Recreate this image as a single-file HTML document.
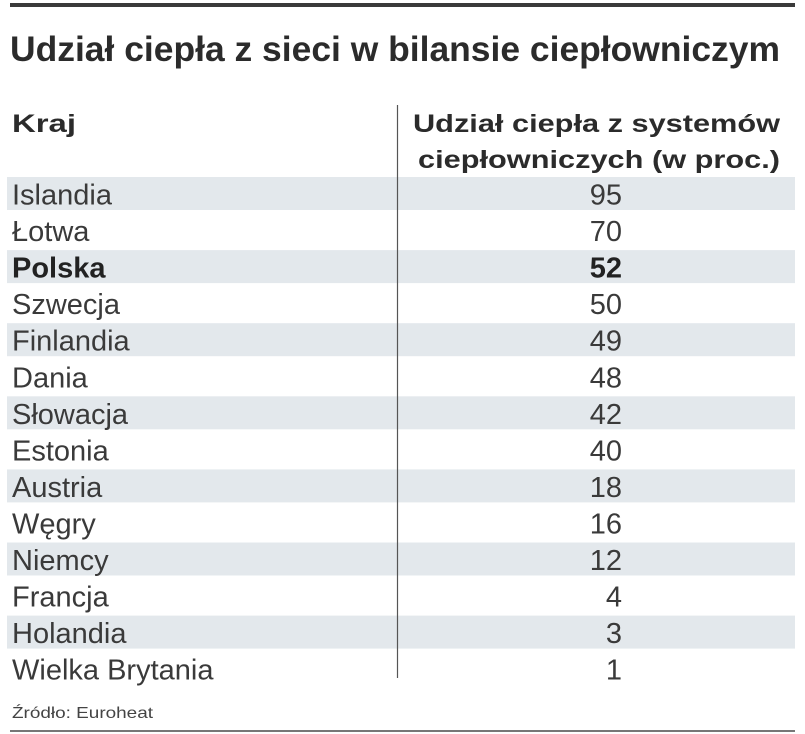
<!DOCTYPE html>
<html><head><meta charset="utf-8"><style>
html,body{margin:0;padding:0;background:#fff;}
svg{display:block;font-family:"Liberation Sans",sans-serif;}
</style></head><body>
<svg id="tbl" width="805" height="734" viewBox="0 0 805 734">
<rect x="10" y="3" width="785" height="4" fill="#3a3a3a"/>
<text x="10" y="61" font-size="35" font-weight="bold" fill="#2b2b2b" textLength="770" lengthAdjust="spacingAndGlyphs">Udział ciepła z sieci w bilansie ciepłowniczym</text>
<text x="12" y="132" font-size="25" font-weight="bold" fill="#2b2b2b" textLength="64" lengthAdjust="spacingAndGlyphs">Kraj</text>
<text x="780" y="132" font-size="25" font-weight="bold" fill="#2b2b2b" text-anchor="end" textLength="367" lengthAdjust="spacingAndGlyphs">Udział ciepła z systemów</text>
<text x="780" y="168" font-size="25" font-weight="bold" fill="#2b2b2b" text-anchor="end" textLength="362" lengthAdjust="spacingAndGlyphs">ciepłowniczych (w proc.)</text>
<g id="rows"></g>
<line x1="397.5" y1="105" x2="397.5" y2="678" stroke="#555" stroke-width="1.2"/>
<text x="12" y="718" font-size="16" fill="#444" textLength="141" lengthAdjust="spacingAndGlyphs">Źródło: Euroheat</text>
<rect x="10" y="730" width="785" height="2" fill="#777"/>
</svg>
<script>
const countries=["Islandia","Łotwa","Polska","Szwecja","Finlandia","Dania","Słowacja","Estonia","Austria","Węgry","Niemcy","Francja","Holandia","Wielka Brytania"];
const values=[95,70,52,50,49,48,42,40,18,16,12,4,3,1];
const highlighted=["Polska"];
const NS="http://www.w3.org/2000/svg";
const g=document.getElementById("rows");
const rowY=i=>177+i*36.55;
countries.forEach((c,i)=>{
  const y=rowY(i);
  if(i%2===0){
    const r=document.createElementNS(NS,"rect");
    r.setAttribute("x",7);r.setAttribute("y",y);r.setAttribute("width",788);r.setAttribute("height",33);
    r.setAttribute("fill","#e3e8ec");
    
    
    g.appendChild(r);
  }
  const bold=highlighted.includes(c);
  const t=document.createElementNS(NS,"text");
  t.setAttribute("x",12);t.setAttribute("y",y+27.5);
  t.setAttribute("font-size",29);
  t.setAttribute("fill",bold?"#222":"#3a3a3a");
  if(bold)t.setAttribute("font-weight","bold");
  t.textContent=c;
  
  
  g.appendChild(t);
  const v=document.createElementNS(NS,"text");
  v.setAttribute("x",622);v.setAttribute("y",y+27.5);
  v.setAttribute("font-size",29);v.setAttribute("text-anchor","end");
  v.setAttribute("fill",bold?"#222":"#3a3a3a");
  if(bold)v.setAttribute("font-weight","bold");
  v.textContent=values[i];
  
  
  g.appendChild(v);
});
</script>
</body></html>
